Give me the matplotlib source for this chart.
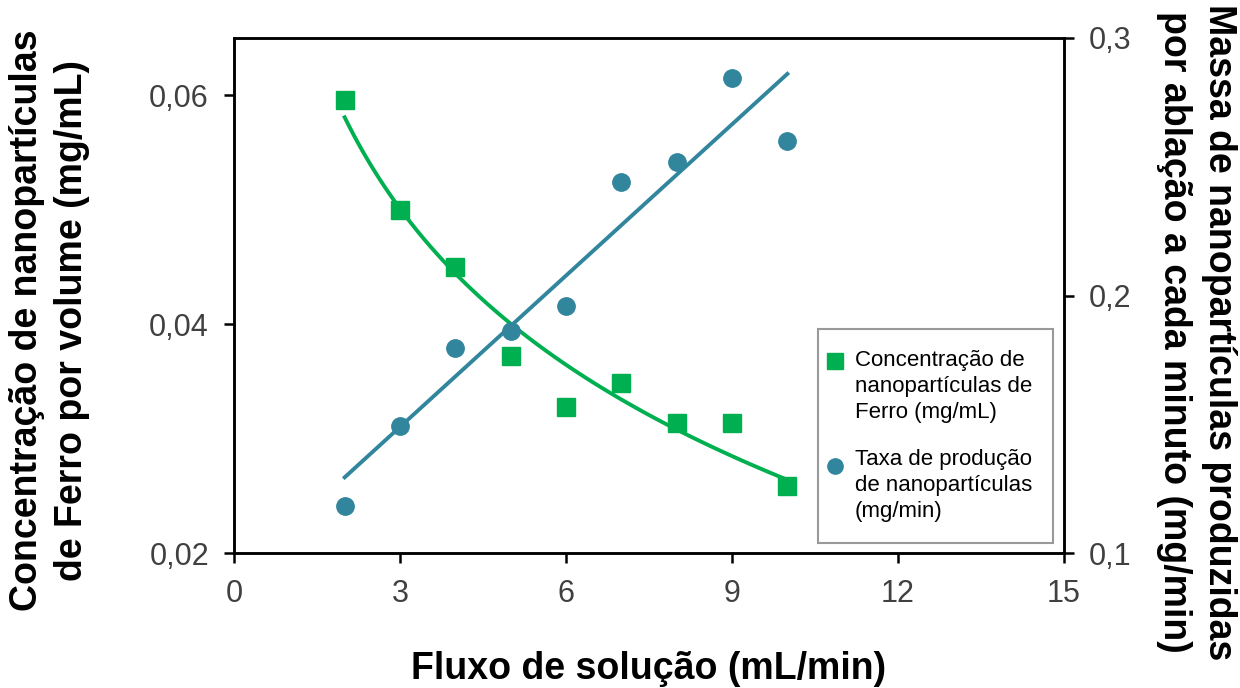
import numpy as np
import matplotlib.pyplot as plt
from matplotlib.legend_handler import HandlerLine2D

plt.rcParams['font.family'] = ['Liberation Sans', 'DejaVu Sans']

#----------------------------------------------------------------
# data
#----------------------------------------------------------------
fluxo = [2, 3, 4, 5, 6, 7, 8, 9, 10]
concentracao = [0.0596, 0.0500, 0.0450, 0.0372, 0.0328, 0.0349, 0.0314, 0.0314, 0.0259]
taxa = [0.1183, 0.1493, 0.1796, 0.1862, 0.1959, 0.2441, 0.2518, 0.2845, 0.2600]

label_conc = "Concentração de\nnanopartículas de\nFerro (mg/mL)"
label_taxa = "Taxa de produção\nde nanopartículas\n(mg/min)"

verde = "#00B050"
azul = "#31859C"

# trend lines (log fit for concentration, linear fit for rate)
x = np.array(fluxo, dtype=float)
xs = np.linspace(2, 10, 100)
b, a = np.polyfit(np.log(x), concentracao, 1)
conc_fit = a + b * np.log(xs)
m, c = np.polyfit(x, taxa, 1)
taxa_fit = m * xs + c


# legend marker placed next to the first line of a multi-line label
class HandlerTopLine(HandlerLine2D):
    def __init__(self, dx, dy, **kw):
        super().__init__(**kw)
        self.dx = dx
        self.dy = dy

    def create_artists(self, legend, orig_handle, xdescent, ydescent,
                       width, height, fontsize, trans):
        arts = super().create_artists(legend, orig_handle, xdescent, ydescent,
                                      width, height, fontsize, trans)
        for art in arts:
            art.set_xdata(np.asarray(art.get_xdata()) + self.dx)
            art.set_ydata(np.asarray(art.get_ydata()) + self.dy)
        return arts


#----------------------------------------------------------------
# plot
#----------------------------------------------------------------
fig = plt.figure(figsize=(12.4, 6.88), dpi=100)
ax = fig.add_axes([0.1887, 0.196, 0.6694, 0.7488])
ax2 = ax.twinx()

ax.plot(xs, conc_fit, color=verde, lw=2.8, zorder=2)
h1, = ax.plot(fluxo, concentracao, 's', color=verde, ms=13, zorder=3, label=label_conc)
ax2.plot(xs, taxa_fit, color=azul, lw=2.8, zorder=2)
h2, = ax2.plot(fluxo, taxa, 'o', color=azul, ms=12.5, zorder=3, label=label_taxa)

ax.set_xlim(0, 15)
ax.set_ylim(0.02, 0.065)
ax2.set_ylim(0.1, 0.3)
ax.set_xticks([0, 3, 6, 9, 12, 15])
ax.set_yticks([0.02, 0.04, 0.06])
ax.set_yticklabels(["0,02", "0,04", "0,06"])
ax2.set_yticks([0.1, 0.2, 0.3])
ax2.set_yticklabels(["0,1", "0,2", "0,3"])

for a_ in (ax, ax2):
    for s in a_.spines.values():
        s.set_linewidth(1.8)
    a_.tick_params(labelsize=22, labelcolor="#404040", width=1.8, length=7,
                   direction="out", pad=11)
ax.tick_params(axis='x', pad=11.5)

ax.set_xlabel("Fluxo de solução (mL/min)", fontsize=27, fontweight="bold", va="center")
ax.xaxis.set_label_coords(0.5, -0.2252)
ax.set_ylabel("Concentração de nanopartículas\nde Ferro por volume (mg/mL)",
              fontsize=27, fontweight="bold", linespacing=1.33, va="center")
ax.yaxis.set_label_coords(-0.2223, 0.4524)
ax2.set_ylabel("Massa de nanopartículas produzidas\npor ablação a cada minuto (mg/min)",
               fontsize=27, fontweight="bold", rotation=270, linespacing=1.33, va="center")
ax2.yaxis.set_label_coords(1.1596, 0.430)

leg = ax2.legend(handles=[h1, h2], loc="lower right", bbox_to_anchor=(0.9867, 0.0194),
                 borderaxespad=0, fontsize=16, labelspacing=1.2, handletextpad=0.0,
                 handlelength=0.72, markerscale=0.88, fancybox=False, edgecolor="#808080",
                 borderpad=0.95,
                 handler_map={h1: HandlerTopLine(-8.6, 18.5), h2: HandlerTopLine(-8.6, 14.5)})
leg.get_frame().set_linewidth(1.5)
for t in leg.get_texts():
    t.set_linespacing(1.30)

fig.savefig("out.png", dpi=100)
